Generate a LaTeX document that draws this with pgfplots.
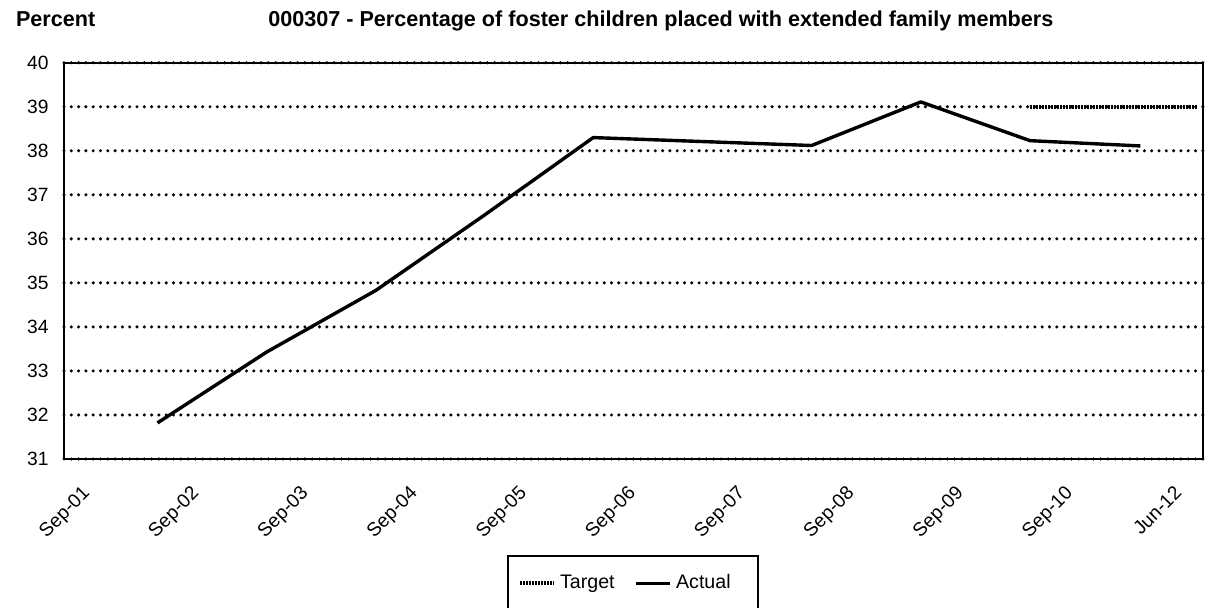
\documentclass[border=0pt]{standalone}
\usepackage{pgfplots}
\pgfplotsset{compat=1.18}
\usepackage{fontspec}
\setmainfont{Liberation Sans}

\begin{document}
\begin{tikzpicture}
\path[use as bounding box] (-32pt,-74pt) rectangle (572pt,229.5pt);
\begin{axis}[
  at={(0pt,0pt)}, anchor=south west,
  scale only axis, width=569.5pt, height=198.15pt,
  xmin=-0.156, xmax=10.274, ymin=31, ymax=40,
  xtick={0,...,10},
  xticklabels={Sep-01,Sep-02,Sep-03,Sep-04,Sep-05,Sep-06,Sep-07,Sep-08,Sep-09,Sep-10,Jun-12},
  ytick={31,...,40},
  major tick length=0pt,
  xticklabel style={rotate=45, anchor=north east, font=\fontsize{9.6}{11}\selectfont},
  xticklabel shift=7.9pt,
  yticklabel style={font=\fontsize{9.6}{11}\selectfont},
  yticklabel shift=4.2pt,
  /pgf/number format/assume math mode=true,
  axis line style={line width=1.1pt},
  ymajorgrids,
  major grid style={line width=1.7pt, line cap=round, dash pattern=on 0pt off 3.65pt, black},
  title={000307 - Percentage of foster children placed with extended family members},
  every axis title/.style={at={(0.524,1.0914)}, anchor=base, font=\fontsize{10.8}{13}\selectfont\bfseries},
  ylabel={Percent},
  every axis y label/.style={at={(-0.0483,1.0914)}, anchor=base west, font=\fontsize{10.8}{13}\selectfont\bfseries},
  legend columns=2,
  legend style={at={(0.4996,-0.2422)}, anchor=north, draw=black, line width=1pt,
    inner xsep=5pt, inner ysep=7pt, font=\fontsize{9.8}{11}\selectfont,
    nodes={text height=7.2pt, text depth=2.2pt},
    /tikz/every even column/.append style={column sep=8pt}},
]
\addplot[line width=2pt, dash pattern=on 0.9pt off 0.6pt] coordinates {(8.69,39) (10.22,39)};
\addlegendentry{Target}
\addplot[line width=1.7pt, line join=round] coordinates {
  (0.70,31.82) (1.70,33.43) (2.70,34.83) (3.70,36.55) (4.69,38.30)
  (5.69,38.21) (6.69,38.12) (7.69,39.11) (8.69,38.23) (9.70,38.11)};
\addlegendentry{\makebox[34pt][l]{Actual}}
\end{axis}
\end{tikzpicture}
\end{document}
